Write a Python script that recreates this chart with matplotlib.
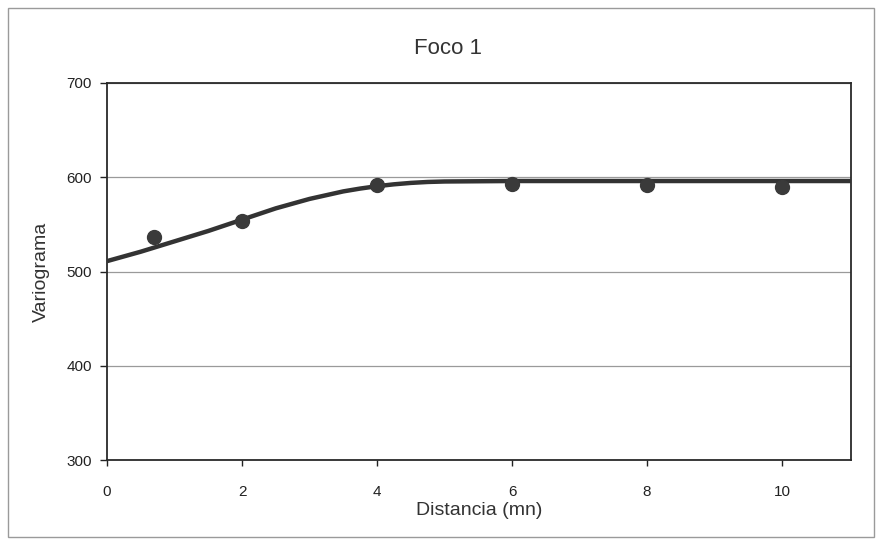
import numpy as np
import matplotlib.pyplot as plt
from matplotlib.patches import Rectangle

plt.rcParams['font.family'] = ['Liberation Sans', 'DejaVu Sans']

dist_obs = [0.7, 2, 4, 6, 8, 10]
vario_obs = [537, 554, 592, 593, 592, 590]

# 拟合曲线
dist_fit = [0, 0.5, 1, 1.5, 2, 2.5, 3, 3.25, 3.5, 3.75, 4, 4.25, 4.5, 4.75, 5, 6, 8, 10, 11.05]
vario_fit = [511, 521, 532, 543, 555, 567, 577, 581, 585, 588, 590.5, 592.5, 594, 595, 595.5, 596, 596, 596, 596]

x_ticks = [0, 2, 4, 6, 8, 10]
y_ticks = [300, 400, 500, 600, 700]

fig = plt.figure(figsize=(8.79, 5.40), dpi=100)
ax = fig.add_axes([107 / 879, 1 - 460 / 540, (851 - 107) / 879, (460 - 83) / 540])

# 外框
fig.patches.append(Rectangle((8 / 879, 3 / 540), 866 / 879, 529 / 540, transform=fig.transFigure,
                             fill=False, edgecolor='#9a9a9a', linewidth=1.0))

ax.plot(dist_fit, vario_fit, color='#333333', linewidth=3.2, solid_capstyle='butt', zorder=3)
ax.plot(dist_obs, vario_obs, 'o', color='#3a3a3a', markersize=10, zorder=4)

ax.set_xlim(0, 11.02)
ax.set_ylim(300, 700)
ax.set_xticks(x_ticks)
ax.set_yticks(y_ticks)
ax.grid(axis='y', color='#9a9a9a', linewidth=0.9)
ax.set_axisbelow(True)

for s in ax.spines.values():
    s.set_color('#2a2a2a')
    s.set_linewidth(1.3)

ax.tick_params(axis='x', direction='out', length=4, width=1, pad=14, labelsize=11, colors='#222222')
ax.tick_params(axis='y', direction='out', length=5, width=1, pad=6, labelsize=11, colors='#222222')

ax.set_xlabel('Distancia (mn)', fontsize=14, color='#333333', labelpad=2)
ax.set_ylabel('Variograma', fontsize=14, color='#333333', labelpad=12)

fig.text(448 / 879, 1 - 48 / 540, 'Foco 1', ha='center', va='center', fontsize=16, color='#333333')

plt.savefig('out.png', dpi=100)
plt.close()
